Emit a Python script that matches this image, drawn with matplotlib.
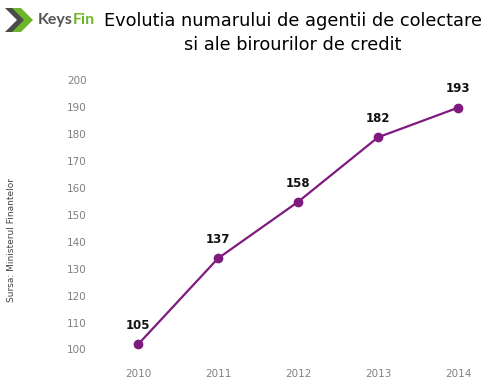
import matplotlib.pyplot as plt
import matplotlib.transforms as mtransforms
from matplotlib.patches import Polygon

years = [2010, 2011, 2012, 2013, 2014]
values = [105, 137, 158, 182, 193]
yticks = [100, 110, 120, 130, 140, 150, 160, 170, 180, 190, 200]

purple = '#7f1a7f'

fig = plt.figure(figsize=(4.94, 3.86), dpi=100)
ax = fig.add_axes([106/494, 1 - 366/386, 384/494, (366 - 83.5)/386])

ax.plot(years, values, color=purple, lw=1.6, marker='o', ms=6, zorder=3)
for x, v in zip(years, values):
    ax.annotate(str(v), (x, v), xytext=(0, 13.5), textcoords='offset points',
                ha='center', va='center', fontsize=8.5, fontweight='bold', color='#111111')

ax.set_xlim(2009.6, 2014.4)
ax.set_ylim(97, 202)
ax.set_xticks(years)
ax.set_yticks(yticks)
ax.tick_params(length=0, labelsize=7.5, labelcolor='#808080')
ax.tick_params(axis='y', pad=14)
ax.tick_params(axis='x', pad=2)
for s in ax.spines.values():
    s.set_visible(False)

# tick labels sit a bit higher than their grid values in the source
shift = mtransforms.ScaledTranslation(0, 8.5/100, fig.dpi_scale_trans)
for lab in ax.get_yticklabels():
    lab.set_transform(lab.get_transform() + shift)

# title
fig.text(293/494, 1 - 21/386, "Evolutia numarului de agentii de colectare",
         ha='center', va='center', fontsize=12.8, color='black')
fig.text(293/494, 1 - 45/386, "si ale birourilor de credit",
         ha='center', va='center', fontsize=12.8, color='black')

# logo
def pt(x, y):
    return (x/494, 1 - y/386)

fig.add_artist(Polygon([pt(5, 8), pt(14, 8), pt(26, 20), pt(14, 32), pt(5, 32), pt(17, 20)],
                       closed=True, transform=fig.transFigure, color='#4a4a4a', lw=0))
fig.add_artist(Polygon([pt(12, 8), pt(21, 8), pt(33, 20), pt(21, 32), pt(12, 32), pt(24, 20)],
                       closed=True, transform=fig.transFigure, color='#6fb52c', lw=0))
t = fig.text(38/494, 1 - 20/386, "Keys", ha='left', va='center', fontsize=11.5,
             family='Lato', fontweight='bold', color='#555555')
fig.canvas.draw()
bb = t.get_window_extent()
fig.text(bb.x1/494, 1 - 20/386, "Fin", ha='left', va='center', fontsize=11.5,
         family='Lato', fontweight='bold', color='#6fb52c')

# source
fig.text(12/494, 1 - 240/386, "Sursa: Ministerul Finantelor", rotation=90,
         ha='center', va='center', fontsize=6.5, color='#444444')

fig.savefig('out.png', dpi=100)
